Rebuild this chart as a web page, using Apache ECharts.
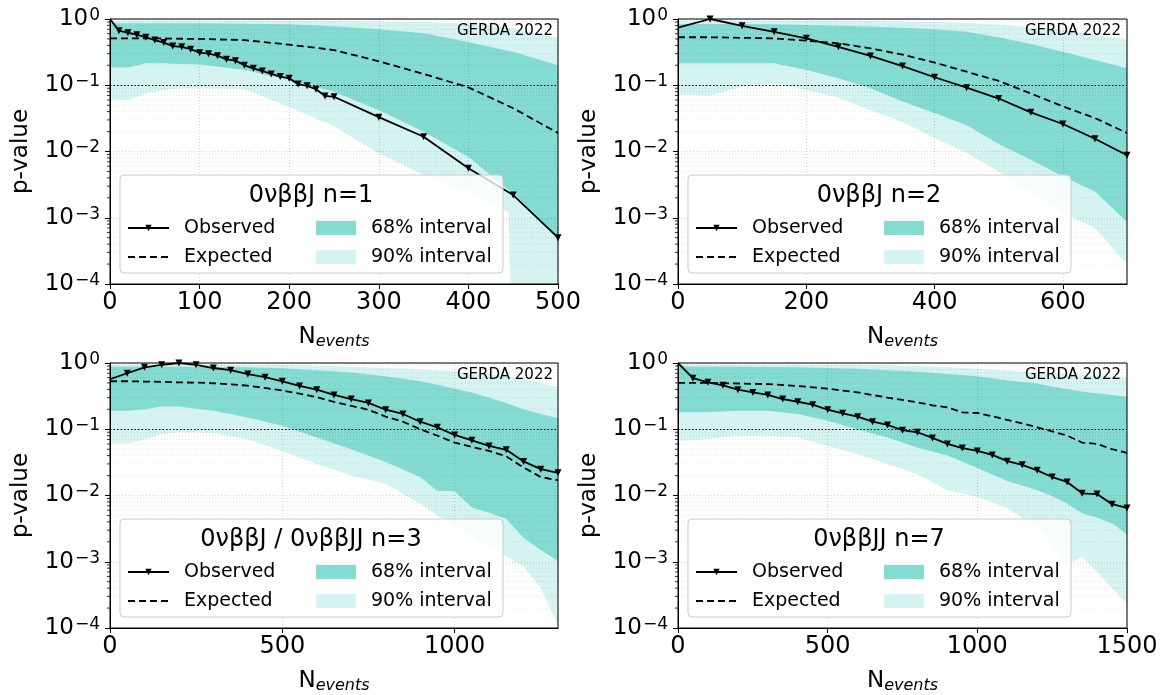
<!DOCTYPE html>
<html><head><meta charset="utf-8">
<script src="https://cdn.jsdelivr.net/npm/echarts@6/dist/echarts.min.js"></script>
<style>html,body{margin:0;padding:0;background:#fff}#c{width:1172px;height:695px}</style>
</head><body><div id="c"></div>
<script>
// ---------- data ----------
const panelTitles = ['0νββJ n=1', '0νββJ n=2', '0νββJ / 0νββJJ n=3', '0νββJJ n=7'];
const xMaxes = [500, 700, 1300, 1500];
const xIntervals = [100, 200, 500, 500];
const yTickExps = [-4, -3, -2, -1, 0];

// Panel 1 (n=1)
const obsX1 = [0,10,20,30,40,50,60,70,80,90,100,110,120,130,140,150,160,170,180,190,200,210,220,230,240,250,300,350,400,450,500];
const obsY1 = [1.0,0.667,0.62,0.58,0.53,0.48,0.44,0.39,0.38,0.35,0.31,0.30,0.28,0.246,0.235,0.20,0.18,0.164,0.148,0.135,0.127,0.104,0.098,0.087,0.069,0.067,0.033,0.0167,0.0056,0.0022,0.0005];
const expX1 = [0,50,100,150,200,250,300,350,400,450,500];
const expY1 = [0.51,0.51,0.50,0.48,0.41,0.34,0.23,0.148,0.093,0.045,0.019];
const bandX1 = [0,20,40,60,80,100,150,200,250,300,350,400,445,450,500];
const hi90_1 = [0.95,0.95,0.95,0.95,0.95,0.95,0.95,0.94,0.93,0.92,0.90,0.85,0.74,0.72,0.51];
const hi68_1 = [0.86,0.86,0.86,0.86,0.86,0.86,0.85,0.83,0.78,0.70,0.61,0.45,0.33,0.32,0.20];
const lo68_1 = [0.186,0.186,0.214,0.214,0.21,0.207,0.17,0.12,0.08,0.042,0.0198,0.0083,0.0026,0.0024,0.00048];
const lo90_1 = [0.061,0.06,0.075,0.085,0.09,0.09,0.088,0.047,0.024,0.0094,0.0044,0.0025,0.0012,1e-6,1e-6];

// Panel 2 (n=2)
const obsX2 = [0,50,100,150,200,250,300,350,400,450,500,550,600,650,700];
const obsY2 = [0.74,1.0,0.79,0.64,0.51,0.38,0.277,0.195,0.132,0.092,0.063,0.039,0.026,0.0156,0.0088];
const expX2 = [0,50,100,150,200,250,300,350,400,450,500,550,600,650,700];
const expY2 = [0.53,0.53,0.52,0.51,0.47,0.43,0.36,0.29,0.22,0.16,0.116,0.075,0.048,0.032,0.019];
const bandX2 = [0,50,100,150,200,250,300,350,400,450,500,550,600,650,700];
const hi90_2 = [0.95,0.95,0.95,0.95,0.95,0.94,0.93,0.92,0.90,0.87,0.82,0.75,0.68,0.58,0.49];
const hi68_2 = [0.84,0.84,0.84,0.83,0.81,0.79,0.77,0.74,0.70,0.64,0.53,0.42,0.32,0.24,0.18];
const lo68_2 = [0.214,0.214,0.214,0.214,0.17,0.127,0.09,0.057,0.038,0.025,0.013,0.0075,0.0042,0.0025,0.00087];
const lo90_2 = [0.071,0.07,0.095,0.107,0.085,0.065,0.042,0.028,0.016,0.0095,0.005,0.0025,0.0012,0.0007,0.0002];

// Panel 3 (n=3)
const obsX3 = [0,50,100,150,200,250,300,350,400,450,500,550,600,650,700,750,800,850,900,950,1000,1050,1100,1150,1200,1250,1300];
const obsY3 = [0.57,0.70,0.86,0.94,1.0,0.94,0.84,0.78,0.68,0.61,0.53,0.45,0.395,0.33,0.285,0.25,0.197,0.17,0.13,0.107,0.082,0.068,0.056,0.049,0.0327,0.025,0.022];
const expX3 = [0,50,100,150,200,250,300,350,400,450,500,550,600,650,700,750,800,850,900,950,1000,1050,1100,1150,1200,1250,1300];
const expY3 = [0.53,0.53,0.525,0.52,0.51,0.505,0.495,0.475,0.455,0.42,0.385,0.345,0.305,0.26,0.225,0.197,0.155,0.13,0.10,0.08,0.063,0.054,0.047,0.039,0.0265,0.019,0.017];
const bandX3 = [0,50,100,150,200,300,400,500,600,700,800,900,950,1000,1050,1100,1150,1200,1250,1300];
const hi90_3 = [0.95,0.95,0.95,0.95,0.95,0.95,0.94,0.93,0.91,0.88,0.84,0.80,0.78,0.75,0.72,0.68,0.63,0.57,0.50,0.43];
const hi68_3 = [0.88,0.88,0.88,0.88,0.88,0.87,0.86,0.83,0.78,0.72,0.63,0.53,0.47,0.41,0.36,0.30,0.25,0.20,0.17,0.147];
const lo68_3 = [0.19,0.19,0.20,0.22,0.22,0.19,0.15,0.113,0.075,0.05,0.032,0.019,0.0117,0.0117,0.0066,0.0055,0.0044,0.0023,0.0015,0.00102];
const lo90_3 = [0.061,0.061,0.07,0.085,0.09,0.088,0.07,0.047,0.03,0.02,0.015,0.0075,0.005,0.0035,0.0025,0.0017,0.0012,0.00086,0.0004,0.00011];

// Panel 4 (n=7)
const obsX4 = [0,50,100,150,200,250,300,350,400,450,500,550,600,650,700,750,800,850,900,950,1000,1050,1100,1150,1200,1250,1300,1350,1400,1450,1500];
const obsY4 = [1.0,0.59,0.51,0.46,0.395,0.36,0.33,0.285,0.26,0.235,0.197,0.174,0.155,0.13,0.116,0.097,0.09,0.074,0.06,0.052,0.047,0.041,0.033,0.029,0.024,0.019,0.016,0.0108,0.0105,0.0074,0.0065];
const expX4 = [0,100,200,300,400,500,600,700,800,850,900,950,1000,1050,1100,1150,1200,1250,1300,1350,1400,1450,1500];
const expY4 = [0.50,0.50,0.49,0.48,0.45,0.41,0.36,0.30,0.255,0.23,0.214,0.18,0.176,0.157,0.138,0.123,0.107,0.093,0.08,0.063,0.06,0.05,0.044];
const bandX4 = [0,50,100,200,300,400,500,600,700,800,900,1000,1100,1200,1250,1300,1350,1400,1450,1500];
const hi90_4 = [0.95,0.95,0.95,0.95,0.95,0.95,0.94,0.93,0.92,0.90,0.86,0.82,0.77,0.72,0.70,0.68,0.66,0.65,0.63,0.60];
const hi68_4 = [0.88,0.88,0.88,0.88,0.87,0.86,0.84,0.82,0.78,0.74,0.68,0.63,0.55,0.49,0.44,0.40,0.37,0.35,0.33,0.31];
const lo68_4 = [0.18,0.18,0.18,0.19,0.19,0.17,0.134,0.10,0.075,0.053,0.04,0.026,0.0165,0.012,0.0098,0.0075,0.0054,0.0046,0.0038,0.0026];
const lo90_4 = [0.067,0.068,0.071,0.08,0.08,0.075,0.056,0.042,0.03,0.021,0.012,0.0095,0.0065,0.0033,0.0018,0.0009,0.0012,0.0007,0.0004,0.00023];

// ---------- assembly ----------
const FONT = '"DejaVu Sans", "Noto Sans", sans-serif';
const C68 = '#84dbd1';
const C90 = '#d5f3f0';
const panels = [
  {L:110, T:19,  W:448, obsX:obsX1, obsY:obsY1, expX:expX1, expY:expY1, bx:bandX1, lo90:lo90_1, lo68:lo68_1, hi68:hi68_1, hi90:hi90_1},
  {L:678, T:19,  W:449, obsX:obsX2, obsY:obsY2, expX:expX2, expY:expY2, bx:bandX2, lo90:lo90_2, lo68:lo68_2, hi68:hi68_2, hi90:hi90_2},
  {L:110, T:363, W:448, obsX:obsX3, obsY:obsY3, expX:expX3, expY:expY3, bx:bandX3, lo90:lo90_3, lo68:lo68_3, hi68:hi68_3, hi90:hi90_3},
  {L:678, T:363, W:449, obsX:obsX4, obsY:obsY4, expX:expX4, expY:expY4, bx:bandX4, lo90:lo90_4, lo68:lo68_4, hi68:hi68_4, hi90:hi90_4}
];
const H = 265;

const minorVals = [];
yTickExps.slice(0, -1).forEach(e => { for (let k = 2; k <= 9; k++) minorVals.push(k * Math.pow(10, e)); });

// first point of each observed curve sits on the axis edge: no marker there (as in the reference)
const obsData = (xs, ys) => xs.map((x, i) => i === 0 ? { value: [x, ys[i]], symbol: 'none' } : [x, ys[i]]);
const zip = (xs, ys) => xs.map((x, i) => [x, ys[i]]);

function bandSeries(name, p, i, lo, hi, color) {
  return {
    type: 'custom', name, xAxisIndex: i, yAxisIndex: i, clip: true, silent: true, z: 2,
    itemStyle: { color },
    data: [[p.bx[0], hi[0]]],
    renderItem: (params, api) => {
      const pts = [];
      for (let k = 0; k < p.bx.length; k++) pts.push(api.coord([p.bx[k], hi[k]]));
      for (let k = p.bx.length - 1; k >= 0; k--) pts.push(api.coord([p.bx[k], lo[k]]));
      return { type: 'polygon', shape: { points: pts }, style: { fill: color } };
    }
  };
}

const grids = [], xAxes = [], yAxes = [], series = [], legends = [], graphics = [];
panels.forEach((p, i) => {
  grids.push({ left: p.L, top: p.T, width: p.W, height: H, show: true, borderColor: '#000', borderWidth: 1, backgroundColor: 'transparent', z: 3 });
  xAxes.push({
    gridIndex: i, type: 'value', min: 0, max: xMaxes[i], interval: xIntervals[i], z: 3,
    axisLine: { show: true, lineStyle: { color: '#000', width: 1 } },
    axisTick: { show: true, length: 5, lineStyle: { color: '#000' } },
    axisLabel: { fontSize: 24, color: '#000', fontFamily: FONT, margin: 7, formatter: v => String(v),
      showMaxLabel: xMaxes[i] % xIntervals[i] === 0 },
    splitLine: { show: true, lineStyle: { type: [1, 2], color: 'rgba(0,0,0,0.22)', width: 0.8 } },
    name: '{n|N}{s|events}', nameLocation: 'middle', nameGap: 40,
    nameTextStyle: { rich: {
      n: { fontSize: 23, fontFamily: FONT, color: '#000', lineHeight: 26, verticalAlign: 'middle' },
      s: { fontSize: 16, fontFamily: FONT, fontStyle: 'italic', color: '#000', lineHeight: 16, verticalAlign: 'bottom', padding: [12, 0, 0, 0] }
    } }
  });
  yAxes.push({
    gridIndex: i, type: 'log', logBase: 10, min: 1e-4, max: 1, z: 3,
    axisLine: { show: true, lineStyle: { color: '#000', width: 1 } },
    axisTick: { show: true, length: 5, lineStyle: { color: '#000' } },
    axisLabel: {
      margin: 10, color: '#000',
      formatter: v => { const e = Math.round(Math.log10(v)); return '{b|10}{s|' + (e < 0 ? '\u2212' + (-e) : e) + '}'; },
      rich: {
        b: { fontSize: 23, fontFamily: FONT, color: '#000', lineHeight: 24, verticalAlign: 'middle' },
        s: { fontSize: 17, fontFamily: FONT, color: '#000', lineHeight: 17, verticalAlign: 'top', padding: [0, 0, 16, 1] }
      }
    },
    splitLine: { show: true, lineStyle: { type: [1, 2], color: 'rgba(0,0,0,0.22)', width: 0.8 } },
    name: 'p-value', nameLocation: 'middle', nameGap: 77,
    nameTextStyle: { fontSize: 23, fontFamily: FONT, color: '#000' }
  });

  series.push(bandSeries('90% interval', p, i, p.lo90, p.hi90, C90));
  series.push(bandSeries('68% interval', p, i, p.lo68, p.hi68, C68));
  series.push({
    type: 'custom', name: 'minor', xAxisIndex: i, yAxisIndex: i, clip: false, silent: true, z: 3,
    data: minorVals.map(v => [0, v]),
    renderItem: (params, api) => {
      const cs = params.coordSys;
      const y = api.coord([0, api.value(1)])[1];
      return { type: 'group', children: [
        { type: 'line', shape: { x1: cs.x, y1: y, x2: cs.x + cs.width, y2: y }, style: { stroke: 'rgba(0,0,0,0.13)', lineWidth: 0.8, lineDash: [1, 2] } },
        { type: 'line', shape: { x1: cs.x - 3, y1: y, x2: cs.x, y2: y }, style: { stroke: '#000', lineWidth: 0.8 } }
      ] };
    }
  });
  series.push({
    type: 'line', name: 'Expected', xAxisIndex: i, yAxisIndex: i, z: 4,
    data: zip(p.expX, p.expY), symbol: 'none', silent: true,
    lineStyle: { color: '#000', width: 1.8, type: [7, 4] }, itemStyle: { color: '#000' }
  });
  series.push({
    type: 'line', name: 'Observed', xAxisIndex: i, yAxisIndex: i, z: 4,
    data: obsData(p.obsX, p.obsY), symbol: 'triangle', symbolSize: 7, symbolRotate: 180, showAllSymbol: true, silent: true,
    lineStyle: { color: '#000', width: 1.8 }, itemStyle: { color: '#000' },
    markLine: { silent: true, symbol: 'none', label: { show: false }, z: 4,
      lineStyle: { color: '#000', type: [1.5, 2], width: 1.2 }, data: [{ yAxis: 0.1 }] }
  });

  // legend box, title and label
  graphics.push({ type: 'rect', z: 5, shape: { x: p.L + 10, y: p.T + 156, width: 383, height: 98, r: 4 },
    style: { fill: 'rgba(255,255,255,0.8)', stroke: '#cccccc', lineWidth: 1 } });
  graphics.push({ type: 'text', z: 7, x: p.L + 201, y: p.T + 177,
    style: { text: panelTitles[i], font: '24px ' + FONT, fill: '#000', align: 'center', verticalAlign: 'middle' } });
  graphics.push({ type: 'text', z: 7, x: p.L + 443, y: p.T + 12,
    style: { text: 'GERDA 2022', font: '15px ' + FONT, fill: '#000', align: 'right', verticalAlign: 'middle' } });

  legends.push({ left: p.L + 17, top: p.T + 198, orient: 'vertical', padding: 0, itemGap: 7, itemWidth: 41, itemHeight: 8,
    selectedMode: false, z: 6,
    textStyle: { fontSize: 19, fontFamily: FONT, color: '#000', lineHeight: 22, padding: [0, 0, 0, 10] },
    data: [{ name: 'Observed' }, { name: 'Expected', itemStyle: { opacity: 0 } }] });
  legends.push({ left: p.L + 206, top: p.T + 198, orient: 'vertical', padding: 0, itemGap: 7, itemWidth: 40, itemHeight: 14,
    selectedMode: false, z: 6, icon: 'rect',
    textStyle: { fontSize: 19, fontFamily: FONT, color: '#000', lineHeight: 22, padding: [0, 0, 0, 10] },
    data: ['68% interval', '90% interval'] });
});

const chart = echarts.init(document.getElementById('c'), null, { renderer: 'canvas' });
chart.setOption({
  animation: false,
  backgroundColor: '#fff',
  grid: grids, xAxis: xAxes, yAxis: yAxes, series, legend: legends,
  graphic: { elements: graphics }
});
</script>
</body></html>
